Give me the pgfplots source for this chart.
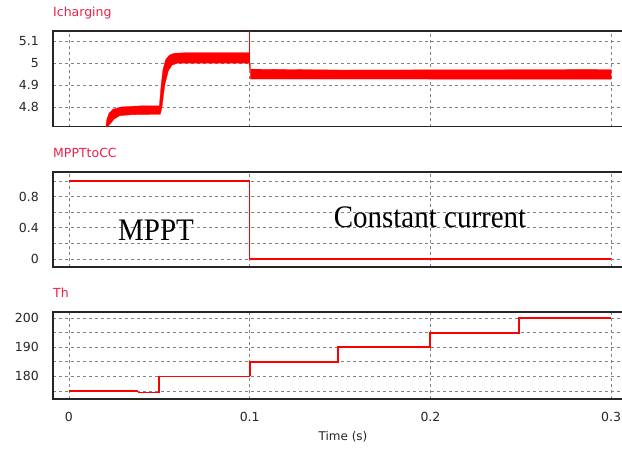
\documentclass[border=0pt]{standalone}
\usepackage{pgfplots}
\pgfplotsset{compat=1.18}
\usepackage{fontspec}
\setmainfont{DejaVu Sans}
\newfontfamily\annot{Liberation Serif}

\definecolor{sig}{RGB}{255,0,0}
\definecolor{ttl}{RGB}{240,30,70}
\definecolor{gridc}{RGB}{130,130,130}

% common look of the three scope panels
\pgfplotsset{
  scopeplot/.style={
    scale only axis, width=571pt, anchor=north west,
    xmin=-0.00884, xmax=0.3071,
    axis line style={draw=black!85, line width=1.3pt},
    xtick={0,0.1,0.2,0.3},
    xticklabels={},
    grid=major,
    major grid style={draw=gridc, dash pattern=on 3pt off 3pt, line width=0.7pt},
    major tick length=0pt,
    tick label style={font=\fontsize{12.5}{14}\selectfont, text=black!85},
    yticklabel style={anchor=east, inner sep=0pt, xshift=-14pt},
    /pgf/number format/assume math mode=true,
    clip=true,
  },
}

\begin{document}
\begin{tikzpicture}
\path[use as bounding box] (0,0) rectangle (622pt,-448pt);

% ---------------- charging current ----------------
\begin{axis}[scopeplot, at={(53pt,-31pt)}, height=95.5pt,
  ymin=4.711, ymax=5.1455,
  ytick={4.8,4.9,5,5.1}, yticklabels={4.8,4.9,5,5.1}]
% ripple envelope of the current (upper edge, then lower edge back)
\addplot[fill=sig, draw=sig, line width=0.3pt] coordinates {
  (0.0204,4.711) (0.0210,4.745) (0.0222,4.772) (0.0245,4.790) (0.0290,4.800)
  (0.0350,4.803) (0.0400,4.805) (0.0500,4.805)
  (0.0510,4.900) (0.0520,4.970) (0.0535,5.015) (0.0555,5.035) (0.0580,5.044)
  (0.0650,5.047) (0.0998,5.047)
  (0.0998,4.972) (0.1500,4.968) (0.3000,4.970)
  (0.3000,4.926) (0.1500,4.927) (0.1003,4.927)
  (0.1003,4.999) (0.0600,4.999) (0.0570,4.990) (0.0550,4.965) (0.0530,4.900)
  (0.0515,4.800) (0.0505,4.766) (0.0350,4.765) (0.0280,4.760) (0.0250,4.745)
  (0.0230,4.725) (0.0215,4.711)
} -- cycle;
% switching spike
\addplot[sig, line width=1.3pt] coordinates {(0.1,4.99) (0.1,5.20)};
\end{axis}
\node[anchor=base west, inner sep=0pt, text=ttl, font=\fontsize{12.5}{14}\selectfont]
  at (53pt,-16pt) {Icharging};

% ---------------- mode flag ----------------
\begin{axis}[scopeplot, at={(53pt,-172pt)}, height=95pt,
  ymin=-0.103, ymax=1.115,
  ytick={0,0.2,0.4,0.6,0.8,1}, yticklabels={0,,0.4,,0.8,}]
\addplot[sig, line width=1.3pt] coordinates {(0,1) (0.1,1) (0.1,0)};
\addplot[sig, line width=2.1pt] coordinates {(0.1,0) (0.3,0)};
\end{axis}
\node[anchor=base west, inner sep=0pt, text=ttl, font=\fontsize{12.5}{14}\selectfont]
  at (53pt,-157pt) {MPPTtoCC};
\node[anchor=base, inner sep=0pt, yscale=1.08, font=\annot\fontsize{29}{32}\selectfont]
  at (156pt,-240pt) {MPPT};
\node[anchor=base, inner sep=0pt, yscale=1.08, font=\annot\fontsize{29}{32}\selectfont]
  at (430pt,-227pt) {Constant current};

% ---------------- threshold ----------------
\begin{axis}[scopeplot, at={(53pt,-312pt)}, height=87pt,
  ymin=172.26, ymax=202.05,
  ytick={175,180,185,190,195,200}, yticklabels={,180,,190,,200},
  xticklabels={0,0.1,0.2,0.3},
  xticklabel style={anchor=north, inner sep=0pt, yshift=-13pt}]
\addplot[sig, line width=1.2pt] coordinates {(0,175) (0.038,175)};
\addplot[sig, line width=1.6pt] coordinates {
  (0.038,174.5) (0.0497,174.5) (0.0497,180) (0.1,180)};
\addplot[sig, line width=2pt] coordinates {
  (0.1,180) (0.1,185) (0.149,185) (0.149,190) (0.2,190) (0.2,195)
  (0.249,195) (0.249,200) (0.3,200)};
\end{axis}
\node[anchor=base west, inner sep=0pt, text=ttl, font=\fontsize{12.5}{14}\selectfont]
  at (53pt,-297pt) {Th};
\node[anchor=base, inner sep=0pt, font=\fontsize{12}{14}\selectfont, text=black!85]
  at (343pt,-440pt) {Time (s)};
\end{tikzpicture}
\end{document}
